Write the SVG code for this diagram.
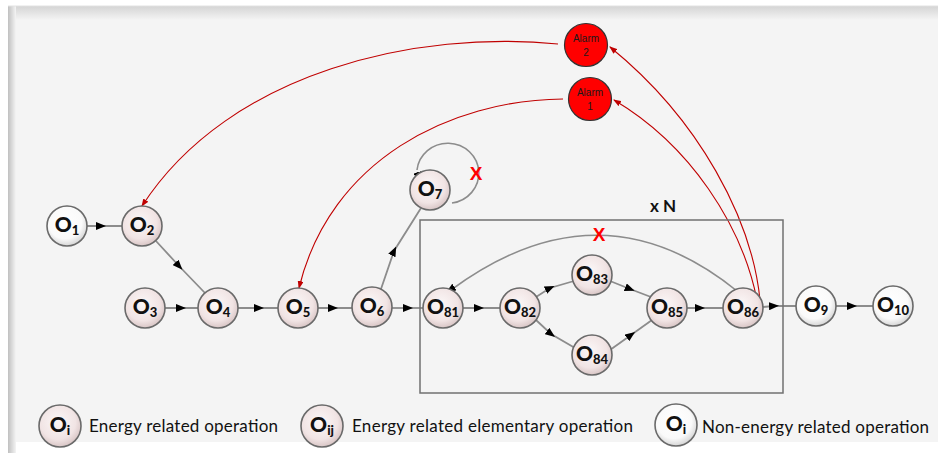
<svg xmlns="http://www.w3.org/2000/svg" width="938" height="453" viewBox="0 0 938 453">
<defs>
<radialGradient id="gE" cx="0.45" cy="0.4" r="0.6">
<stop offset="0" stop-color="#fbf7f7"/><stop offset="0.7" stop-color="#f1e4e4"/><stop offset="1" stop-color="#d9c6c6"/>
</radialGradient>
<radialGradient id="gW" cx="0.45" cy="0.4" r="0.6">
<stop offset="0" stop-color="#ffffff"/><stop offset="0.7" stop-color="#fafafa"/><stop offset="1" stop-color="#d6d6d6"/>
</radialGradient>
<linearGradient id="gTop" x1="0" y1="0" x2="0" y2="1">
<stop offset="0" stop-color="#d4d4d4"/><stop offset="1" stop-color="#f4f4f4"/>
</linearGradient>
<linearGradient id="gLeft" x1="0" y1="0" x2="1" y2="0">
<stop offset="0" stop-color="#c0c0c0"/><stop offset="1" stop-color="#f4f4f4"/>
</linearGradient>
<marker id="ah" markerUnits="userSpaceOnUse" markerWidth="10" markerHeight="8" refX="5" refY="4" orient="auto">
<path d="M0,0 L10,4 L0,8 z" fill="#000"/>
</marker>
<marker id="ahEnd" markerUnits="userSpaceOnUse" markerWidth="10" markerHeight="8" refX="9" refY="4" orient="auto">
<path d="M0,0 L10,4 L0,8 z" fill="#000"/>
</marker>
<marker id="rh" markerUnits="userSpaceOnUse" markerWidth="8" markerHeight="6" refX="7" refY="3" orient="auto">
<path d="M0,0 L8,3 L0,6 z" fill="#c00000"/>
</marker>
</defs>
<style>
.e{fill:url(#gE);stroke:#6a6a6a;stroke-width:1.6}
.w{fill:url(#gW);stroke:#6a6a6a;stroke-width:1.6}
.lbl{font-family:Lato,"Liberation Sans",sans-serif;font-weight:900;font-size:21px;fill:#111;text-anchor:middle}
.sub{font-size:13px}
.ln{fill:none;stroke:#8c8c8c;stroke-width:1.8;marker-mid:url(#ah)}
.arc{fill:none;stroke:#8c8c8c;stroke-width:1.6}
.red{fill:none;stroke:#c00000;stroke-width:1.1;marker-end:url(#rh)}
.alarm{fill:#ff0000;stroke:#333;stroke-width:1.2}
.at{font-family:"Liberation Sans",Arial,sans-serif;font-size:10px;fill:#1a1a1a;text-anchor:middle}
.leg{font-family:Lato,"Open Sans",sans-serif;font-size:17px;fill:#111}
.x{font-family:"Liberation Sans",Arial,sans-serif;font-weight:bold;font-size:19px;fill:#ff0000;text-anchor:middle}
</style>
<rect x="0" y="0" width="938" height="453" fill="#ffffff"/>
<rect x="8" y="6" width="930" height="436" fill="#f4f4f4"/>
<rect x="8" y="6" width="930" height="14" fill="url(#gTop)"/>
<rect x="8" y="6" width="8" height="447" fill="url(#gLeft)"/>
<line x1="8" y1="6" x2="938" y2="6" stroke="#e2e2e2" stroke-width="1"/>

<g id="connectors">
<polyline class="ln" points="87,226 101,226 122,226"/>
<polyline class="ln" points="156,241 179,266 205,293"/>
<polyline class="ln" points="165,308 181,308 198,308"/>
<polyline class="ln" points="238,308 259,308 278,308"/>
<polyline class="ln" points="318,308 333,308 352,308"/>
<polyline class="ln" points="381,289 394,251 421,208"/>
<polyline class="ln" points="392,308 408,308 423,308"/>
<polyline class="ln" points="463,308 479,308 500,308"/>
<polyline class="ln" points="536,297 550,288 574,281"/>
<polyline class="ln" points="536,320 551,334 575,348"/>
<polyline class="ln" points="610,281 630,289 651,297"/>
<polyline class="ln" points="610,350 631,335 652,320"/>
<polyline class="ln" points="687,308 700,308 723,308"/>
<polyline class="ln" points="763,307 774,306 796,306"/>
<polyline class="ln" points="836,306 852,306 873,306"/>
<path class="arc" d="M452,203 A31,30 0 1 0 417,170" />
<path d="M417,172 L420,181" stroke="#000" stroke-width="1" marker-end="url(#ahEnd)"/>
<path class="arc" d="M737,291 Q600,180 451,290" />
<path d="M453,288 L447,292" stroke="#000" stroke-width="1" marker-end="url(#ahEnd)"/>
<path class="red" d="M558,44 C420,30 230,70 142,206"/>
<path class="red" d="M563,99 C450,100 330,160 299,288"/>
<path class="red" d="M760,300 C752,220 700,120 610,47"/>
<path class="red" d="M757,300 C742,225 690,145 614,100"/>
</g>

<rect x="420" y="220" width="363" height="173" fill="none" stroke="#707070" stroke-width="1.5"/>
<text x="663" y="212" font-family="Lato,'Liberation Sans',sans-serif" font-weight="bold" font-size="17" text-anchor="middle" fill="#111">x N</text>
<text class="x" x="476" y="180">X</text>
<text class="x" x="599" y="241">X</text>

<g id="alarm2"><circle class="alarm" cx="586" cy="45" r="21.5"/><text class="at" x="586" y="42">Alarm</text><text class="at" x="586" y="56">2</text></g>
<g id="alarm1"><circle class="alarm" cx="590" cy="99" r="21.5"/><text class="at" x="590" y="96">Alarm</text><text class="at" x="590" y="110">1</text></g>

<g id="O1"><circle class="w" cx="67" cy="226" r="20"/><text class="lbl" x="67" y="232">O<tspan class="sub" dy="3">1</tspan></text></g>
<g id="O2"><circle class="e" cx="142" cy="226" r="20"/><text class="lbl" x="142" y="232">O<tspan class="sub" dy="3">2</tspan></text></g>
<g id="O3"><circle class="e" cx="145" cy="308" r="20"/><text class="lbl" x="145" y="314">O<tspan class="sub" dy="3">3</tspan></text></g>
<g id="O4"><circle class="e" cx="218" cy="308" r="20"/><text class="lbl" x="218" y="314">O<tspan class="sub" dy="3">4</tspan></text></g>
<g id="O5"><circle class="e" cx="298" cy="308" r="20"/><text class="lbl" x="298" y="314">O<tspan class="sub" dy="3">5</tspan></text></g>
<g id="O6"><circle class="e" cx="372" cy="307" r="20"/><text class="lbl" x="372" y="313">O<tspan class="sub" dy="3">6</tspan></text></g>
<g id="O7"><circle class="e" cx="430" cy="190" r="20"/><text class="lbl" x="430" y="196">O<tspan class="sub" dy="3">7</tspan></text></g>
<g id="O81"><circle class="e" cx="443" cy="308" r="20"/><text class="lbl" x="443" y="314">O<tspan class="sub" dy="3">81</tspan></text></g>
<g id="O82"><circle class="e" cx="520" cy="308" r="20"/><text class="lbl" x="520" y="314">O<tspan class="sub" dy="3">82</tspan></text></g>
<g id="O83"><circle class="e" cx="592" cy="275" r="20"/><text class="lbl" x="592" y="281">O<tspan class="sub" dy="3">83</tspan></text></g>
<g id="O84"><circle class="e" cx="592" cy="355" r="20"/><text class="lbl" x="592" y="361">O<tspan class="sub" dy="3">84</tspan></text></g>
<g id="O85"><circle class="e" cx="667" cy="308" r="20"/><text class="lbl" x="667" y="314">O<tspan class="sub" dy="3">85</tspan></text></g>
<g id="O86"><circle class="e" cx="743" cy="308" r="20"/><text class="lbl" x="743" y="314">O<tspan class="sub" dy="3">86</tspan></text></g>
<g id="O9"><circle class="w" cx="816" cy="306" r="20"/><text class="lbl" x="816" y="312">O<tspan class="sub" dy="3">9</tspan></text></g>
<g id="O10"><circle class="w" cx="893" cy="306" r="20"/><text class="lbl" x="893" y="312">O<tspan class="sub" dy="3">10</tspan></text></g>

<g id="legend">
<circle class="e" cx="60" cy="426" r="21"/><text class="lbl" x="60" y="432">O<tspan class="sub" dy="3">i</tspan></text>
<text class="leg" x="89" y="432" textLength="189">Energy related operation</text>
<circle class="e" cx="322" cy="426" r="21"/><text class="lbl" x="322" y="432">O<tspan class="sub" dy="3">ij</tspan></text>
<text class="leg" x="352" y="432" textLength="281">Energy related elementary operation</text>
<circle class="w" cx="676" cy="425" r="21"/><text class="lbl" x="676" y="431">O<tspan class="sub" dy="3">i</tspan></text>
<text class="leg" x="702" y="433" textLength="227">Non-energy related operation</text>
</g>
</svg>
